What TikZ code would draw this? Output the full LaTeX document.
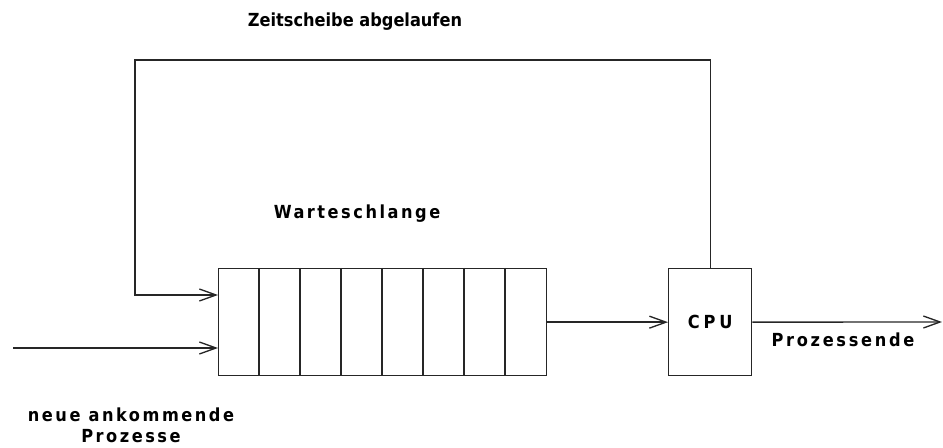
\documentclass[tikz,border=0pt]{standalone}
\usepackage{fontspec}
\setmainfont{DejaVu Sans Condensed}
\usetikzlibrary{arrows.meta,calc}
\begin{document}
\begin{tikzpicture}[x=0.75pt,y=-0.75pt,
  line/.style={draw=black!85,line width=1pt},
  arr/.style={line,-{Straight Barb[length=12.5pt,width=9pt,line width=1pt]}},
  box/.style={line,fill=white,inner sep=0pt,anchor=north west},
  lbl/.style={font=\bfseries\fontsize{13.5}{16}\selectfont,inner sep=0pt,align=center},
  wide/.style={lbl,font=\bfseries\fontsize{13.5}{16}\selectfont\addfontfeature{LetterSpace=#1}},
  wide/.default=14]
\useasboundingbox (0,0) rectangle (943,448);
% queue with eight cells
\node[box,minimum width=328*0.75pt,minimum height=107*0.75pt] (q) at (218,268) {};
\foreach \i in {1,...,7}
  \draw[line] ($(q.north west)+(\i*41,0)$) -- ($(q.south west)+(\i*41,0)$);
% processor
\node[box,minimum width=83*0.75pt,minimum height=107*0.75pt] (cpu) at (668,268) {};
\node[wide=22] (cpulbl) at (cpu.center) {CPU};
% feedback loop
\coordinate (top) at (cpu.north);
\coordinate (loopend) at (q.west |- 0,295);
\draw[arr] (top) |- (135,60) |- (loopend);
% incoming processes
\coordinate (in) at (13,348);
\draw[arr] (in) -- (q.west |- in);
% queue to processor
\draw[arr] (q.east) -- (cpu.west);
% finished processes
\coordinate (out) at (942,322);
\draw[arr] (cpu.east) -- (out);
% labels
\node[lbl] (zs) at (355,22) {Zeitscheibe abgelaufen};
\node[wide] (ws) at (357,214) {Warteschlange};
\node[wide=15] (pe) at (843,340) {Prozessende};
\node[wide] (neu) at (131,425) {neue ankommende\\Prozesse};
\end{tikzpicture}
\end{document}
